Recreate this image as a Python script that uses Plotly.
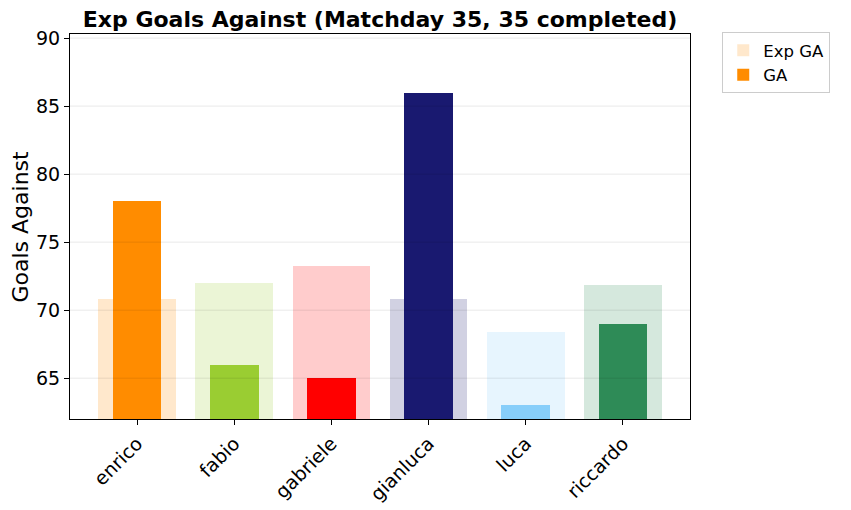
import plotly.graph_objects as go

players = ["enrico", "fabio", "gabriele", "gianluca", "luca", "riccardo"]
exp_ga = [70.8, 72.0, 73.25, 70.8, 68.4, 71.85]
ga = [78, 66, 65, 86, 63, 69]
colors = ["#FF8C00", "#9ACD32", "#FF0000", "#191970", "#87CEFA", "#2E8B57"]
y_ticks = [65, 70, 75, 80, 85, 90]


def rgba(hex_color, a):
    h = hex_color.lstrip("#")
    r, g, b = int(h[0:2], 16), int(h[2:4], 16), int(h[4:6], 16)
    return f"rgba({r},{g},{b},{a})"


x = list(range(len(players)))
font = "DejaVu Sans"

fig = go.Figure()
fig.add_trace(go.Bar(
    x=x, y=exp_ga, width=0.8, name="Exp GA",
    marker=dict(color=[rgba(c, 0.2) for c in colors], line=dict(width=0)),
    base=0,
))
fig.add_trace(go.Bar(
    x=x, y=ga, width=0.5, name="GA",
    marker=dict(color=colors, line=dict(width=0)),
    base=0,
))

ymin = min(ga) - 1
ymax = max(ga) * 1.05

for t in y_ticks:
    fig.add_shape(type="line", xref="paper", x0=0, x1=1, yref="y", y0=t, y1=t,
                  line=dict(color="rgba(0,0,0,0.09)", width=1), layer="above")

fig.add_annotation(text="Goals Against", xref="paper", yref="paper",
                   x=(20 - 70) / 620, y=0.5, xanchor="center", yanchor="middle",
                   textangle=-90, showarrow=False, font=dict(size=22, family=font, color="black"))

fig.update_layout(
    width=851, height=510,
    barmode="overlay",
    plot_bgcolor="white", paper_bgcolor="white",
    margin=dict(l=62, r=169, t=26, b=99),
    font=dict(family=font, size=14, color="black"),
    title=dict(text="<b>Exp Goals Against (Matchday 35, 35 completed)</b>",
               font=dict(size=22, family=font, color="black"),
               x=(380 - 8) / 851, xanchor="center", y=1 - 11 / 510, yanchor="middle"),
    xaxis=dict(
        tickmode="array", tickvals=x, ticktext=players, tickangle=-45,
        range=[-0.69, len(players) - 1 + 0.69], automargin=False,
        showline=True, linecolor="black", linewidth=1, mirror=True,
        ticks="outside", ticklen=5, tickcolor="black", showgrid=False, zeroline=False,
        tickfont=dict(size=19),
    ),
    yaxis=dict(
        range=[ymin, ymax], tickvals=y_ticks, automargin=False,
        showline=True, linecolor="black", linewidth=1, mirror=True,
        ticks="outside", ticklen=5, tickcolor="black", showgrid=False, zeroline=False,
        tickfont=dict(size=19),
    ),
    legend=dict(x=1.052, y=1.005, xanchor="left", yanchor="top",
                bordercolor="#cccccc", borderwidth=1, font=dict(size=16.5),
                bgcolor="white"),
    bargap=0,
)

fig.write_html("out.html")
